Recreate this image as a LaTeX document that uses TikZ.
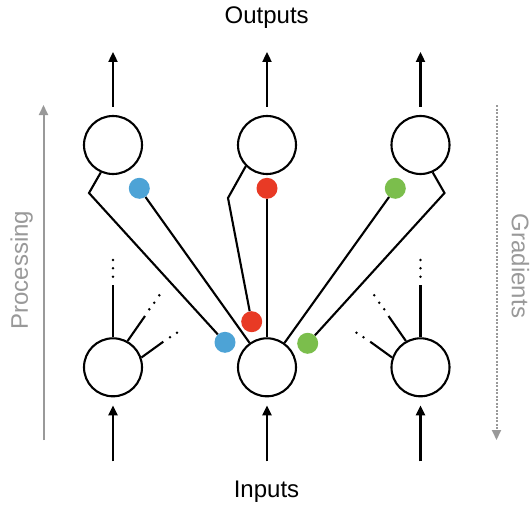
\documentclass[tikz,border=0pt]{standalone}
\usepackage{fontspec}
\setmainfont{Liberation Sans}
\usetikzlibrary{arrows.meta}
\definecolor{dotblue}{HTML}{4DA3D6}
\definecolor{dotred}{HTML}{E83A25}
\definecolor{dotgreen}{HTML}{7BBE4C}
\definecolor{sidegray}{HTML}{999999}
\tikzset{
  neuron/.style={circle, draw=black, line width=2.1pt, minimum size=58pt, inner sep=0pt},
  wdot/.style={circle, inner sep=0pt, minimum size=21pt},
  conn/.style={line width=2.1pt, line join=miter},
  io/.style={line width=2.1pt, -{Triangle[width=9pt,length=10pt]}},
  label/.style={font=\fontsize{24}{28}\selectfont, inner sep=0pt},
  side/.style={draw=sidegray, line width=2pt, -{Triangle[width=9pt,length=10pt]}}
}
\begin{document}
\begin{tikzpicture}[x=1pt, y=-1pt]
\useasboundingbox (0,0) rectangle (531,506);
% neurons
\node[neuron] (t1) at (113,145) {};
\node[neuron] (t2) at (267,145) {};
\node[neuron] (t3) at (420.5,145) {};
\node[neuron] (b1) at (113,367.3) {};
\node[neuron] (b2) at (267,367.3) {};
\node[neuron] (b3) at (420.5,367.3) {};
% weight dots
\node[wdot, fill=dotblue] (wb1) at (139.3,188.3) {};
\node[wdot, fill=dotblue] (wb2) at (225,342.3) {};
\node[wdot, fill=dotred] (wr1) at (267,188.3) {};
\node[wdot, fill=dotred] (wr2) at (251.7,321.7) {};
\node[wdot, fill=dotgreen] (wg1) at (395.3,188.3) {};
\node[wdot, fill=dotgreen] (wg2) at (307.7,343.3) {};
% kinks
\coordinate (k1) at (89,193);
\coordinate (k2) at (228,198);
\coordinate (k3) at (444.5,193);
% connectors
\draw[conn] (t1.246) -- (k1) -- (wb2);
\draw[conn] (wb1) -- (b2);
\draw[conn] (t2.225) -- (k2) -- (wr2);
\draw[conn] (wr1) -- (b2);
\draw[conn] (t3.294) -- (k3) -- (wg2);
\draw[conn] (wg1) -- (b2);
% outputs / inputs
\node[label] (out) at (266.7,18) {Outputs};
\node[label] (in) at (266.5,491.5) {Inputs};
\foreach \n in {t1,t2,t3} {
  \draw[io] ([yshift=8pt]\n.north) -- ++(0,-55);
}
\foreach \n in {b1,b2,b3} {
  \draw[io] ([yshift=-64pt]\n.south) -- ([yshift=-8pt]\n.south);
}
% fan-in stubs, left
\draw[conn] (b1.north) -- (113,285);
\foreach \y in {260,268.3,276.7} \fill (113,\y) circle (1.4pt);
\draw[conn] (b1.61) -- (145,316);
\foreach \p in {(149.3,309.3),(154.3,302.7),(159.3,295.3)} \fill \p circle (1.4pt);
\draw[conn] (b1.19) -- (163.3,341.7);
\foreach \p in {(170,337.3),(177,332.7)} \fill \p circle (1.4pt);
% fan-in stubs, right
\draw[conn] (b3.north) -- (420.5,285);
\foreach \y in {260,268.3,276.7} \fill (420.5,\y) circle (1.4pt);
\draw[conn] (b3.119) -- (388.5,316);
\foreach \p in {(384.2,309.3),(379.2,302.7),(374.2,295.3)} \fill \p circle (1.4pt);
\draw[conn] (b3.161) -- (370.2,341.7);
\foreach \p in {(363.5,337.3),(356.5,332.7)} \fill \p circle (1.4pt);
% side arrows
\coordinate (pbot) at (43.5,440);
\coordinate (ptop) at (43.5,105);
\draw[side] (pbot) -- (ptop);
\node[label, text=sidegray, rotate=90] (proc) at (21.7,270) {Processing};
\coordinate (gtop) at (496.5,105);
\coordinate (gbot) at (496.5,440);
\draw[side, dash pattern=on 2.2pt off 1.3pt] (gtop) -- (gbot);
\node[label, text=sidegray, rotate=-90] (grad) at (520.5,266) {Gradients};
\end{tikzpicture}
\end{document}
